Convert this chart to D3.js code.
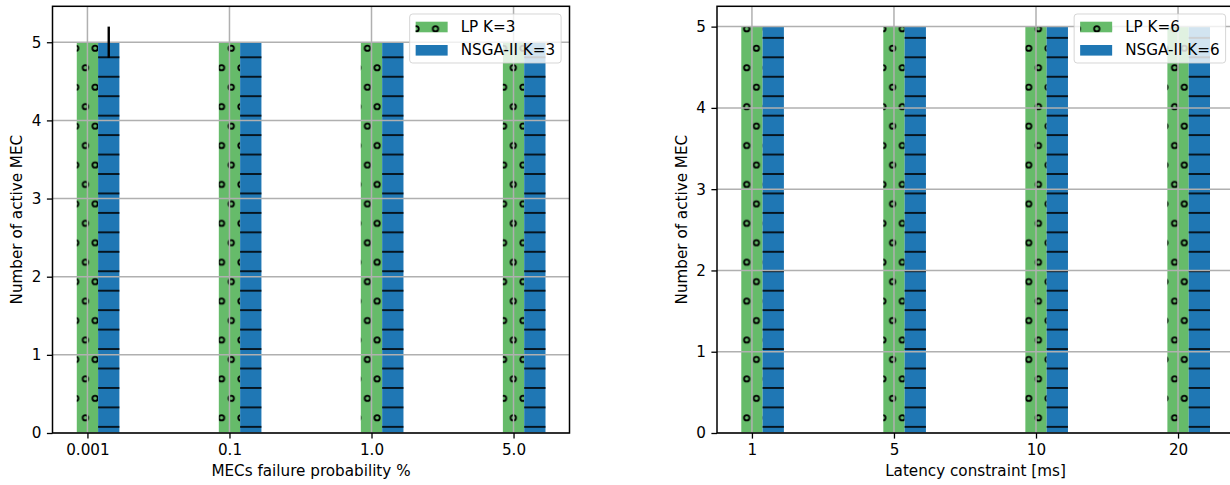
<!DOCTYPE html>
<html>
<head>
<meta charset="utf-8">
<script src="https://cdn.jsdelivr.net/npm/d3@7"></script>
<style>
  html, body { margin: 0; padding: 0; background: #fff; }
  svg { display: block; font-family: "DejaVu Sans", sans-serif; }
</style>
</head>
<body>
<svg id="chart" width="1230" height="485"></svg>
<script>
// ---- data ----
const leftCategories = ["0.001", "0.1", "1.0", "5.0"];
const leftLP = [5, 5, 5, 5];
const leftNSGA = [5, 5, 5, 5];
const leftNSGAErr = [0.2, 0, 0, 0];
const leftLegend = ["LP K=3", "NSGA-II K=3"];
const leftXLabel = "MECs failure probability %";

const rightCategories = ["1", "5", "10", "20"];
const rightLP = [5, 5, 5, 5];
const rightNSGA = [5, 5, 5, 5];
const rightNSGAErr = [0, 0, 0, 0];
const rightLegend = ["LP K=6", "NSGA-II K=6"];
const rightXLabel = "Latency constraint [ms]";

const yTicks = [0, 1, 2, 3, 4, 5];
const yLabel = "Number of active MEC";

// ---- style ----
const GREEN = "#66bb6a", BLUE = "#1f77b4", GRID = "#b0b0b0";
const FS = 15.2, BAR_W = 0.15, TICK = 5.6;
const TOP = 6.3, BOTTOM = 433;

const svg = d3.select("#chart");
const defs = svg.append("defs");

// global hatch lattices (device space)
const HS = 19.45;
const pO = defs.append("pattern").attr("id", "hatchO").attr("patternUnits", "userSpaceOnUse")
  .attr("x", 80.54).attr("y", 57.975).attr("width", HS).attr("height", HS * 2);
[[HS / 4, HS / 2], [HS * 3 / 4, HS * 1.5]].forEach(([cx, cy]) => {
  pO.append("circle").attr("cx", cx).attr("cy", cy).attr("r", 2.7)
    .attr("fill", "none").attr("stroke", "#000").attr("stroke-width", 1.8);
});
const pH = defs.append("pattern").attr("id", "hatchH").attr("patternUnits", "userSpaceOnUse")
  .attr("x", 0).attr("y", 47.575).attr("width", HS).attr("height", HS);
pH.append("line").attr("x1", 0).attr("x2", HS).attr("y1", HS / 2).attr("y2", HS / 2)
  .attr("stroke", "#000").attr("stroke-width", 1.6);

function panel(o) {
  const x = d3.scaleLinear().domain([-0.246, 3.394]).range([o.left, o.left + 517]);
  const y = d3.scaleLinear().domain([0, o.yMax]).range([BOTTOM, TOP]);
  const g = svg.append("g");
  const idx = o.cats.map((_, i) => i);

  // bars
  const bars = g.append("g");
  [[o.lp, 0, GREEN, "hatchO"], [o.nsga, BAR_W, BLUE, "hatchH"]].forEach(([vals, off, col, hatch]) => {
    bars.selectAll(null).data(idx).enter().append("rect")
      .attr("x", i => x(i + off - BAR_W / 2)).attr("width", i => x(i + off + BAR_W / 2) - x(i + off - BAR_W / 2))
      .attr("y", i => y(vals[i])).attr("height", i => y(0) - y(vals[i])).attr("fill", col);
    bars.selectAll(null).data(idx).enter().append("rect")
      .attr("x", i => x(i + off - BAR_W / 2)).attr("width", i => x(i + off + BAR_W / 2) - x(i + off - BAR_W / 2))
      .attr("y", i => y(vals[i])).attr("height", i => y(0) - y(vals[i])).attr("fill", `url(#${hatch})`);
  });

  // grid
  const grid = g.append("g").attr("stroke", GRID).attr("stroke-width", 1.5);
  grid.selectAll(null).data(idx).enter().append("line")
    .attr("x1", i => x(i)).attr("x2", i => x(i)).attr("y1", TOP).attr("y2", BOTTOM);
  grid.selectAll(null).data(yTicks).enter().append("line")
    .attr("x1", x.range()[0]).attr("x2", x.range()[1]).attr("y1", d => y(d)).attr("y2", d => y(d));

  // error bars
  g.append("g").selectAll(null).data(idx.filter(i => o.err[i] > 0)).enter().append("line")
    .attr("x1", i => x(i + BAR_W)).attr("x2", i => x(i + BAR_W))
    .attr("y1", i => y(o.nsga[i] - o.err[i])).attr("y2", i => y(o.nsga[i] + o.err[i]))
    .attr("stroke", "#000").attr("stroke-width", 2.4);

  // axes
  const xa = g.append("g").attr("transform", `translate(0,${BOTTOM})`)
    .call(d3.axisBottom(x).tickValues(idx).tickFormat(i => o.cats[i]).tickSize(TICK).tickPadding(5.6));
  const ya = g.append("g").attr("transform", `translate(${o.left},0)`)
    .call(d3.axisLeft(y).tickValues(yTicks).tickFormat(d3.format("d")).tickSize(TICK).tickPadding(5.6));
  [xa, ya].forEach(a => {
    a.select(".domain").remove();
    a.selectAll(".tick line").attr("stroke", "#000").attr("stroke-width", 1.3);
    a.selectAll(".tick text").attr("fill", "#000").style("font-size", FS + "px")
      .style("font-family", "DejaVu Sans");
  });

  // spines
  g.append("rect").attr("x", x.range()[0]).attr("y", TOP)
    .attr("width", x.range()[1] - x.range()[0]).attr("height", BOTTOM - TOP)
    .attr("fill", "none").attr("stroke", "#000").attr("stroke-width", 1.5);

  // axis labels
  g.append("text").attr("x", (x.range()[0] + x.range()[1]) / 2).attr("y", 476)
    .attr("text-anchor", "middle").style("font-size", FS + "px").text(o.xLabel);
  g.append("text").attr("transform", `translate(${o.left - 35.5},${(TOP + BOTTOM) / 2}) rotate(-90)`)
    .attr("text-anchor", "middle").attr("dominant-baseline", "central")
    .style("font-size", FS + "px").text(yLabel);

  // legend
  const lg = g.append("g");
  const box = lg.append("rect");
  const texts = o.legend.map((t, k) => lg.append("text").attr("dominant-baseline", "central")
    .style("font-size", FS + "px").text(t));
  const tw = d3.max(texts, t => t.node().getComputedTextLength());
  const bw = 6 + 32 + 13 + tw + 6, bh = 49;
  const bx = x.range()[1] - 8.4 - bw, by = TOP + 7.7;
  box.attr("x", bx).attr("y", by).attr("width", bw).attr("height", bh).attr("rx", 3)
    .attr("fill", "rgba(255,255,255,0.8)").attr("stroke", "rgba(204,204,204,0.8)").attr("stroke-width", 1);
  [[GREEN, "hatchO"], [BLUE, null]].forEach(([col, hatch], k) => {
    const py = by + 7.7 + k * 23.3;
    lg.append("rect").attr("x", bx + 6).attr("y", py).attr("width", 32).attr("height", 10.6).attr("fill", col);
    if (hatch) lg.append("rect").attr("x", bx + 6).attr("y", py).attr("width", 32).attr("height", 10.6)
      .attr("fill", `url(#${hatch})`);
  });
  texts.forEach((t, k) => t.attr("x", bx + 51).attr("y", by + 13 + k * 23.3));
  lg.raise();
}

panel({ left: 52.5, cats: leftCategories, lp: leftLP, nsga: leftNSGA, err: leftNSGAErr,
        yMax: 5.46, xLabel: leftXLabel, legend: leftLegend });
panel({ left: 717, cats: rightCategories, lp: rightLP, nsga: rightNSGA, err: rightNSGAErr,
        yMax: 5.25, xLabel: rightXLabel, legend: rightLegend });
</script>
</body>
</html>
